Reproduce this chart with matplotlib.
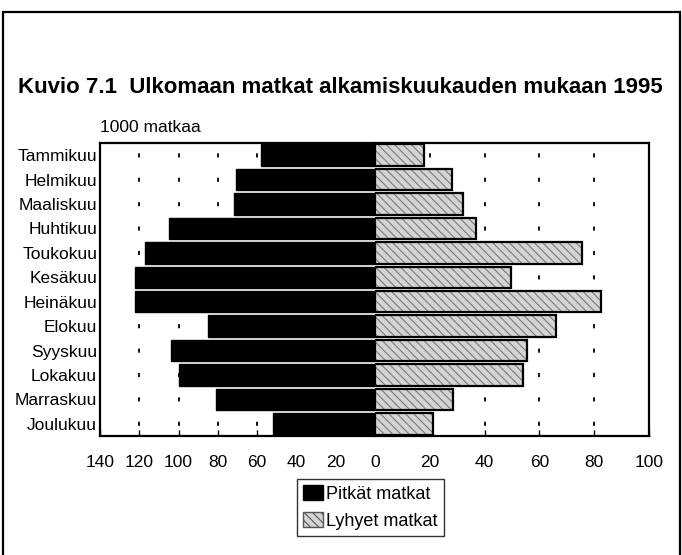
import matplotlib
matplotlib.use('Agg')
import matplotlib.pyplot as plt
from matplotlib.patches import Patch, Rectangle

# Data (1000 trips per month, 1995)
months = ['Tammikuu', 'Helmikuu', 'Maaliskuu', 'Huhtikuu', 'Toukokuu', 'Kesäkuu',
          'Heinäkuu', 'Elokuu', 'Syyskuu', 'Lokakuu', 'Marraskuu', 'Joulukuu']
pitkat = [58, 71, 72, 105, 117, 122, 122, 85, 104, 100, 81, 52]
lyhyet = [18, 28, 32, 37, 75.5, 49.5, 82.5, 66, 55.5, 54, 28.5, 21]
left_ticks = [-140, -120, -100, -80, -60, -40, -20, 0]
right_ticks = [0, 20, 40, 60, 80, 100]

plt.rcParams['font.family'] = ['Liberation Sans', 'DejaVu Sans']
plt.rcParams['hatch.linewidth'] = 0.8
plt.rcParams['lines.scale_dashes'] = False

W, H = 682, 555
fig = plt.figure(figsize=(W / 100, H / 100), dpi=100)

top, bottom = 143, 436
axl = fig.add_axes([100 / W, 1 - bottom / H, 275 / W, (bottom - top) / H])
axr = fig.add_axes([375 / W, 1 - bottom / H, 274 / W, (bottom - top) / H])

y = list(range(len(months)))

axl.barh(y, [-v for v in pitkat], height=0.88, color='black', edgecolor='black', zorder=3)
axr.barh(y, lyhyet, height=0.88, color='#d4d4d4', edgecolor='#7a7a7a',
         hatch='\\\\\\\\', linewidth=0, zorder=3)
axr.barh(y, lyhyet, height=0.88, fill=False, edgecolor='black', linewidth=1.6, zorder=4)

axl.set_xlim(-140, 0)
axr.set_xlim(0, 100)
for ax in (axl, axr):
    ax.set_ylim(len(months) - 0.5, -0.5)
    ax.tick_params(axis='x', direction='in', length=4, width=1, labelsize=12.5, pad=14)
    for s in ax.spines.values():
        s.set_linewidth(1.6)

axl.set_xticks(left_ticks)
axl.set_xticklabels([str(abs(t)) for t in left_ticks])
axr.set_xticks(right_ticks)
axr.set_xticklabels(['' if t == 0 else str(t) for t in right_ticks])
axl.spines['right'].set_visible(False)
axr.spines['left'].set_visible(False)

axl.set_yticks(y)
axl.set_yticklabels(months, fontsize=12.5)
axl.tick_params(axis='y', length=0, pad=2)
axr.set_yticks([])

# sparse dotted gridlines, one short dash per row (row = 24.4 px = 17.57 pt)
period = 17.57
on = 3.0
first = 12.2 * 0.72 - on / 2
grid_style = (period - first, (on, period - on))
for t in left_ticks[1:-1]:
    axl.axvline(t, color='black', linestyle=grid_style, linewidth=1.3, zorder=1)
for t in right_ticks[1:-1]:
    axr.axvline(t, color='black', linestyle=grid_style, linewidth=1.3, zorder=1)

fig.text(18 / W, 1 - 88 / H, 'Kuvio 7.1  Ulkomaan matkat alkamiskuukauden mukaan 1995',
         fontsize=16, fontweight='bold', va='center', ha='left')
fig.text(100 / W, 1 - 127 / H, '1000 matkaa', fontsize=12.5, va='center', ha='left')

handles = [Patch(facecolor='black', edgecolor='black', label='Pitkät matkat'),
           Patch(facecolor='#d4d4d4', edgecolor='#555555', hatch='\\\\\\\\',
                 label='Lyhyet matkat')]
fig.legend(handles=handles, loc='upper left', bbox_to_anchor=(297 / W, 1 - 479 / H),
           frameon=True, fancybox=False, edgecolor='black', fontsize=13,
           handlelength=1.1, handleheight=0.9, handletextpad=0.15,
           borderpad=0.35, labelspacing=0.5, borderaxespad=0)

# outer frame
fig.add_artist(Rectangle((3 / W, -0.05), (W - 5) / W, 1 - 12 / H + 0.05,
                         transform=fig.transFigure, fill=False,
                         edgecolor='black', linewidth=1.6))

fig.savefig('out.png', dpi=100)
